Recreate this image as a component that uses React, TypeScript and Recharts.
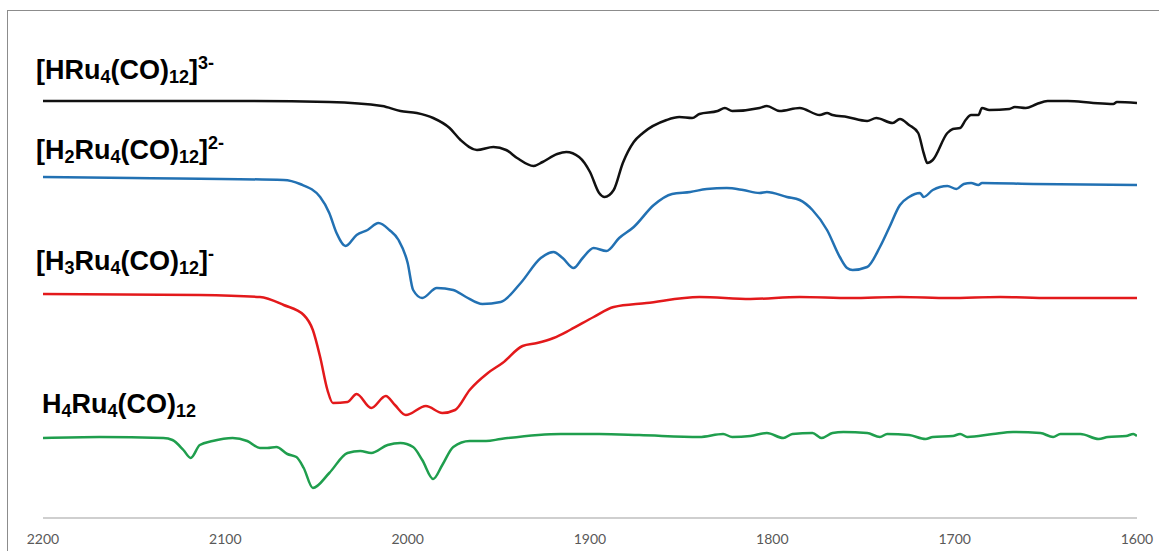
import { LineChart, Line, XAxis, YAxis } from "recharts";

// wavenumbers (cm-1) and offset transmittance (a.u.)
const hruWn = [2200, 2141, 2087, 2043, 2014, 2004, 1995, 1986, 1977, 1971, 1962, 1953, 1946, 1940, 1931, 1926, 1918, 1913, 1906, 1900, 1895, 1892, 1887, 1882, 1876, 1871, 1858, 1851, 1844, 1840, 1830, 1826, 1822, 1807, 1803, 1796, 1785, 1774, 1770, 1767, 1759, 1748, 1743, 1734, 1730, 1725, 1720, 1717, 1715, 1712, 1704, 1701, 1697, 1694, 1691, 1687, 1685, 1681, 1670, 1667, 1661, 1655, 1649, 1638, 1624, 1613, 1611, 1600];
const hruT = [417, 417, 417, 416, 412, 407, 405, 400, 390, 378, 368, 371, 368, 360, 352, 356, 364, 366, 361, 346, 325, 321, 328, 355, 376, 385, 398, 401, 400, 404, 407, 410, 407, 410, 412, 407, 410, 403, 405, 403, 401, 397, 400, 395, 399, 393, 385, 365, 355, 358, 385, 389, 390, 398, 403, 403, 410, 408, 409, 411, 410, 414, 417, 417, 415, 414, 416, 415];

const h2Wn = [2200, 2151, 2068, 2059, 2048, 2043, 2039, 2034, 2028, 2022, 2016, 2010, 2005, 2000, 1997, 1992, 1984, 1975, 1968, 1959, 1949, 1938, 1927, 1920, 1915, 1909, 1904, 1898, 1891, 1884, 1876, 1865, 1855, 1845, 1836, 1825, 1816, 1807, 1803, 1792, 1785, 1778, 1770, 1763, 1759, 1756, 1748, 1741, 1736, 1730, 1725, 1719, 1717, 1712, 1704, 1699, 1695, 1691, 1687, 1685, 1657, 1600];
const h2T = [341, 340, 338, 334, 321, 305, 285, 272, 283, 288, 295, 288, 278, 255, 228, 220, 230, 228, 221, 214, 216, 235, 260, 266, 260, 250, 260, 270, 267, 280, 291, 313, 324, 326, 329, 330, 328, 325, 326, 321, 318, 308, 288, 261, 250, 248, 251, 271, 290, 313, 321, 325, 321, 328, 332, 329, 334, 335, 333, 335, 334, 333];

const h3Wn = [2200, 2114, 2081, 2068, 2057, 2052, 2048, 2044, 2041, 2033, 2028, 2020, 2012, 2007, 2001, 1990, 1981, 1974, 1966, 1956, 1948, 1937, 1929, 1920, 1911, 1898, 1887, 1869, 1840, 1812, 1785, 1757, 1730, 1703, 1675, 1648, 1620, 1600];
const h3T = [224, 223, 221, 213, 203, 188, 161, 128, 115, 116, 124, 110, 122, 113, 103, 112, 105, 108, 128, 145, 155, 172, 175, 180, 188, 201, 211, 215, 221, 219, 221, 220, 221, 220, 221, 220, 220, 220];

const h4Wn = [2200, 2169, 2134, 2129, 2123, 2119, 2114, 2107, 2096, 2088, 2081, 2077, 2072, 2066, 2061, 2057, 2052, 2043, 2033, 2026, 2020, 2011, 2004, 1997, 1992, 1986, 1981, 1975, 1966, 1957, 1949, 1916, 1895, 1873, 1840, 1827, 1822, 1812, 1803, 1794, 1789, 1778, 1773, 1767, 1761, 1748, 1741, 1737, 1725, 1716, 1712, 1701, 1697, 1693, 1679, 1668, 1653, 1646, 1642, 1631, 1621, 1616, 1606, 1602, 1600];
const h4T = [80, 81, 80, 78, 68, 60, 73, 77, 80, 77, 70, 70, 71, 64, 61, 50, 30, 45, 65, 67, 65, 73, 75, 71, 58, 39, 53, 71, 77, 77, 79, 84, 84, 83, 81, 84, 81, 82, 85, 80, 84, 85, 80, 85, 86, 85, 81, 84, 83, 79, 81, 82, 84, 81, 84, 86, 85, 81, 84, 84, 79, 81, 82, 84, 82];

const xTicks = [2200, 2100, 2000, 1900, 1800, 1700, 1600];

const toRows = (wn: number[], t: number[]) => wn.map((w, i) => ({ wn: w, t: t[i] }));

const series = [
  { key: "hru", rows: toRows(hruWn, hruT), color: "#111111" },
  { key: "h2", rows: toRows(h2Wn, h2T), color: "#2271b3" },
  { key: "h3", rows: toRows(h3Wn, h3T), color: "#e3191b" },
  { key: "h4", rows: toRows(h4Wn, h4T), color: "#1f9e4d" },
];

const sub = { fontSize: 18, position: "relative" as const, top: 4 };
const sup = { fontSize: 18, position: "relative" as const, top: -10 };

const labelStyle = (baseline: number, left: number) => ({
  position: "absolute" as const,
  left,
  top: baseline - 21,
  fontFamily: "'Liberation Sans', Arial, sans-serif",
  fontWeight: 700,
  fontSize: 27,
  lineHeight: "27px",
  color: "#000",
  whiteSpace: "nowrap" as const,
});

export default function App() {
  return (
    <div
      style={{
        position: "fixed",
        left: 0,
        top: 0,
        width: 1159,
        height: 551,
        overflow: "hidden",
        background: "#fff",
      }}
    >
      <div
        style={{
          position: "absolute",
          left: 7,
          top: 10,
          width: 1200,
          height: 600,
          border: "1px solid #8c8c8c",
        }}
      />
      <div style={{ position: "absolute", left: 0, top: 0 }}>
        <LineChart
          width={1159}
          height={551}
          margin={{ top: 10, right: 22, bottom: 0, left: 43 }}
        >
          <XAxis
            type="number"
            dataKey="wn"
            domain={[1600, 2200]}
            reversed
            ticks={xTicks}
            allowDataOverflow
            height={33}
            axisLine={{ stroke: "#bfbfbf", strokeWidth: 1.5 }}
            tickLine={false}
            tickSize={14}
            tickMargin={2}
            tick={{ fill: "#595959", fontSize: 14, fontFamily: "Lato, 'Open Sans', sans-serif" }}
          />
          <YAxis type="number" domain={[0, 508]} hide width={0} />
          {series.map((s) => (
            <Line
              key={s.key}
              data={s.rows}
              dataKey="t"
              type="monotone"
              stroke={s.color}
              strokeWidth={2.5}
              dot={false}
              activeDot={false}
              isAnimationActive={false}
            />
          ))}
        </LineChart>
      </div>
      <div style={labelStyle(78, 36)}>
        [HRu<span style={sub}>4</span>(CO)<span style={sub}>12</span>]<span style={sup}>3-</span>
      </div>
      <div style={labelStyle(158, 36)}>
        [H<span style={sub}>2</span>Ru<span style={sub}>4</span>(CO)<span style={sub}>12</span>]<span style={sup}>2-</span>
      </div>
      <div style={labelStyle(269, 36)}>
        [H<span style={sub}>3</span>Ru<span style={sub}>4</span>(CO)<span style={sub}>12</span>]<span style={sup}>-</span>
      </div>
      <div style={labelStyle(412, 42)}>
        H<span style={sub}>4</span>Ru<span style={sub}>4</span>(CO)<span style={sub}>12</span>
      </div>
    </div>
  );
}
